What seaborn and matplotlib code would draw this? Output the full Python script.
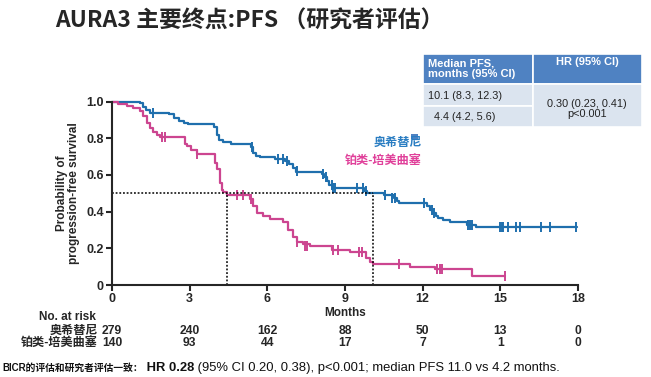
import matplotlib
matplotlib.use("Agg")
import matplotlib.pyplot as plt
import seaborn as sns
from matplotlib.patches import Rectangle

# KM step data
osi_t = [0, 1.1, 1.2, 1.3, 1.45, 2.2, 2.4, 2.6, 2.8, 2.95, 3.95, 4.05, 4.15, 4.3, 4.6,
         5.35, 5.45, 5.55, 5.7, 6.3, 6.7, 6.85, 7.0, 7.1, 8.1, 8.2, 8.3, 8.4, 8.55,
         9.75, 9.85, 10.5, 10.9, 11.0, 11.1, 12.15, 12.3, 12.4, 12.5, 12.6, 12.8,
         13.05, 13.7, 14.05, 17.95]
osi_s = [1.0, 0.99, 0.97, 0.955, 0.94, 0.93, 0.91, 0.895, 0.885, 0.875, 0.86, 0.82,
         0.79, 0.78, 0.77, 0.75, 0.72, 0.705, 0.695, 0.685, 0.675, 0.66, 0.635, 0.615,
         0.605, 0.59, 0.565, 0.545, 0.527, 0.51, 0.50, 0.49, 0.475, 0.46, 0.445, 0.43,
         0.41, 0.39, 0.375, 0.365, 0.355, 0.345, 0.328, 0.314, 0.314]
osi_cens_t = [1.57, 5.4, 6.4, 6.62, 6.75, 7.13, 8.16, 8.26, 8.48, 8.55, 8.61, 9.45, 9.7,
              9.83, 10.54, 10.8, 10.93, 12.05, 12.35, 12.45, 13.76, 13.82, 13.89, 14.98,
              15.05, 15.12, 15.3, 15.62, 15.75, 16.59, 16.91, 17.94]
osi_cens_s = [0.94, 0.75, 0.685, 0.685, 0.675, 0.62, 0.605, 0.59, 0.545, 0.527, 0.527,
              0.527, 0.527, 0.51, 0.49, 0.475, 0.475, 0.445, 0.41, 0.39, 0.328, 0.328,
              0.328, 0.314, 0.314, 0.314, 0.314, 0.314, 0.314, 0.314, 0.314, 0.314]

chemo_t = [0, 0.25, 0.57, 0.82, 1.08, 1.21, 1.34, 1.47, 1.6, 1.72, 1.85, 2.82, 2.88,
           3.05, 3.27, 3.98, 4.04, 4.17, 4.24, 4.3, 4.43, 5.33, 5.46, 5.59, 5.84, 6.1,
           6.62, 6.81, 7.0, 7.13, 7.39, 7.65, 8.48, 9.19, 9.83, 9.95, 10.09, 11.5,
           12.47, 13.89, 15.17]
chemo_s = [1.0, 0.985, 0.975, 0.965, 0.95, 0.92, 0.885, 0.855, 0.835, 0.818, 0.808,
           0.77, 0.755, 0.735, 0.715, 0.665, 0.63, 0.555, 0.52, 0.505, 0.49, 0.47, 0.43,
           0.39, 0.375, 0.362, 0.345, 0.3, 0.26, 0.235, 0.225, 0.215, 0.19, 0.18, 0.145,
           0.125, 0.115, 0.1, 0.085, 0.05, 0.05]
chemo_cens_t = [1.92, 2.05, 3.27, 4.81, 5.07, 5.35, 7.13, 7.45, 7.55, 8.55, 8.74, 9.55,
                9.64, 11.08, 12.54, 12.66, 12.73, 15.17]
chemo_cens_s = [0.808, 0.808, 0.715, 0.49, 0.49, 0.47, 0.235, 0.215, 0.215, 0.19, 0.19,
                0.18, 0.18, 0.115, 0.085, 0.085, 0.085, 0.05]

medians = [10.1, 4.43]

x_ticks = [0, 3, 6, 9, 12, 15, 18]
risk_osi = [279, 240, 162, 88, 50, 13, 0]
risk_chemo = [140, 93, 44, 17, 7, 1, 0]

arm_names = ["奥希替尼", "铂类-培美曲塞"]

BLUE = "#1f6fad"
PINK = "#cc4590"
HEAD = "#4f82c2"
BODY = "#dbe4ef"

W, H = 651, 377

sns.set_style("ticks")
plt.rcParams["font.family"] = ["Liberation Sans", "Noto Sans CJK SC", "DejaVu Sans"]


def fx(px):
    return px / W


def fy(py):
    return 1 - py / H


fig = plt.figure(figsize=(W / 100, H / 100), dpi=100)
ax = fig.add_axes([fx(112), fy(285), (578 - 112) / W, (285 - 101.5) / H])

sns.lineplot(x=osi_t, y=osi_s, drawstyle="steps-post", estimator=None, sort=False,
             color=BLUE, lw=1.6, ax=ax, clip_on=False)
sns.lineplot(x=chemo_t, y=chemo_s, drawstyle="steps-post", estimator=None, sort=False,
             color=PINK, lw=1.6, ax=ax, clip_on=False)
sns.scatterplot(x=osi_cens_t, y=osi_cens_s, marker="|", color=BLUE, s=45,
                linewidth=1.4, ax=ax, clip_on=False)
sns.scatterplot(x=chemo_cens_t, y=chemo_cens_s, marker="|", color=PINK, s=45,
                linewidth=1.4, ax=ax, clip_on=False)

# median lines
ax.plot([0, medians[0]], [0.5, 0.5], ls=(0, (1.2, 1.2)), color="black", lw=1.1)
for m in medians:
    ax.plot([m, m], [0, 0.5], ls=(0, (1.2, 1.2)), color="black", lw=1.1)

ax.set_xlim(0, 18)
ax.set_ylim(0, 1.0)
ax.set_xticks(x_ticks)
ax.set_yticks([0, 0.2, 0.4, 0.6, 0.8, 1.0])
ax.set_yticklabels(["0", "0.2", "0.4", "0.6", "0.8", "1.0"])
ax.tick_params(direction="out", length=4, width=1.5, labelsize=9, pad=2)
for lab in ax.get_xticklabels() + ax.get_yticklabels():
    lab.set_fontweight("bold")
for side in ["left", "bottom"]:
    ax.spines[side].set_linewidth(1.5)
sns.despine(ax=ax)
ax.set_xlabel("Months", fontsize=8.5, fontweight="bold", labelpad=1)
ax.set_ylabel("")

fig.text(fx(68), fy(193), "Probability of\nprogression-free survival", rotation=90,
         ha="center", va="center", fontsize=8.5, fontweight="bold", linespacing=1.05)

# arm labels
fig.text(fx(422), fy(143), arm_names[0], ha="right", va="center", color="#2a7dc2",
         fontsize=8.7, fontweight="bold")
fig.text(fx(422), fy(161), arm_names[1], ha="right", va="center", color="#e0409a",
         fontsize=8.7, fontweight="bold")

# number at risk
fig.text(fx(96), fy(317), "No. at risk", ha="right", va="center", fontsize=8.5,
         fontweight="bold")
fig.text(fx(98), fy(330.5), arm_names[0], ha="right", va="center", fontsize=8.7,
         fontweight="bold")
fig.text(fx(98), fy(342.5), arm_names[1], ha="right", va="center", fontsize=8.7,
         fontweight="bold")
trans = matplotlib.transforms.blended_transform_factory(ax.transData, fig.transFigure)
for xt, a, b in zip(x_ticks, risk_osi, risk_chemo):
    ax.text(xt, fy(330.5), str(a), transform=trans, ha="center", va="center",
            fontsize=8.7, fontweight="bold")
    ax.text(xt, fy(342.5), str(b), transform=trans, ha="center", va="center",
            fontsize=8.7, fontweight="bold")

# title
fig.text(fx(55), fy(21), "AURA3 主要终点:PFS （研究者评估）", ha="left", va="center",
         fontsize=16.5, fontweight="bold", family=["Noto Sans CJK SC"])

# table
x0, x1, x2 = 423, 533, 642
y0, y1, y2, y3 = 54, 84, 106, 127
cells = [
    (x0, y0, x1, y1, HEAD), (x1, y0, x2, y1, HEAD),
    (x0, y1, x1, y2, BODY), (x0, y2, x1, y3, BODY), (x1, y1, x2, y3, BODY),
]
for a, b, c, d, col in cells:
    fig.add_artist(Rectangle((fx(a), fy(d)), fx(c) - fx(a), fy(b) - fy(d),
                             transform=fig.transFigure, facecolor=col,
                             edgecolor="white", lw=1.2))
fig.add_artist(Rectangle((fx(411), fy(139)), fx(7), 5 / H, transform=fig.transFigure,
                         facecolor=HEAD, edgecolor="none"))
fig.text(fx(428), fy(69), "Median PFS,\nmonths (95% CI)", ha="left", va="center",
         color="white", fontsize=8, fontweight="bold", linespacing=1.1)
fig.text(fx(587), fy(62), "HR (95% CI)", ha="center", va="center", color="white",
         fontsize=8, fontweight="bold")
fig.text(fx(428), fy(96), "10.1 (8.3, 12.3)", ha="left", va="center", fontsize=7.8,
         color="#222222")
fig.text(fx(465), fy(117), "4.4 (4.2, 5.6)", ha="center", va="center", fontsize=7.8,
         color="#222222")
fig.text(fx(587), fy(109), "0.30 (0.23, 0.41)\np<0.001", ha="center", va="center",
         fontsize=7.8, color="#222222", linespacing=1.1)

# footnote
pieces = [("BICR的评估和研究者评估一致：", "bold", 7.0), (" HR 0.28", "bold", 9.4),
          (" (95% CI 0.20, 0.38), p<0.001; median PFS 11.0 vs 4.2 months.", "normal", 9.4)]
renderer = fig.canvas.get_renderer()
xpos = 2
for txt, wt, fs in pieces:
    t = fig.text(fx(xpos), fy(368), txt, ha="left", va="center", fontsize=fs,
                 fontweight=wt, color="#111111")
    xpos += t.get_window_extent(renderer).width

fig.savefig("out.png", dpi=100)
